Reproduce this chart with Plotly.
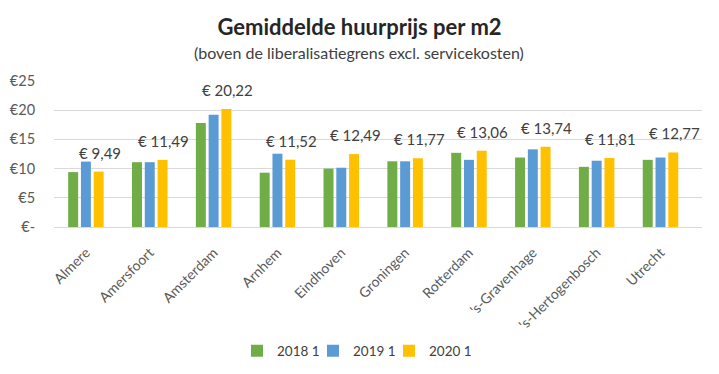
import plotly.graph_objects as go

categories = ["Almere", "Amersfoort", "Amsterdam", "Arnhem", "Eindhoven", "Groningen",
              "Rotterdam", "'s-Gravenhage", "'s-Hertogenbosch", "Utrecht"]
series_names = ["2018 1", "2019 1", "2020 1"]
v2018 = [9.4, 11.1, 17.8, 9.3, 10.0, 11.25, 12.7, 11.9, 10.3, 11.5]
v2019 = [11.2, 11.1, 19.2, 12.55, 10.15, 11.25, 11.5, 13.3, 11.35, 11.9]
v2020 = [9.49, 11.49, 20.22, 11.52, 12.49, 11.77, 13.06, 13.74, 11.81, 12.77]
labels2020 = ["€ 9,49", "€ 11,49", "€ 20,22", "€ 11,52", "€ 12,49", "€ 11,77",
              "€ 13,06", "€ 13,74", "€ 11,81", "€ 12,77"]
y_tickvals = [0, 5, 10, 15, 20, 25]
y_ticktext = ["€-", "€5", "€10", "€15", "€20", "€25"]
colors = ["#70AD47", "#5B9BD5", "#FFC000"]

FONT = "Lato, Open Sans, sans-serif"
W, H = 719, 374
ML, MR, MT, MB = 54, 17, 81, 147
PW, PH = W - ML - MR, H - MT - MB

legend_ids = ["legend", "legend2", "legend3"]
legend_left_px = [237, 313, 389]
legend_center_y_px = 351

fig = go.Figure()
for name, vals, col, lid in zip(series_names, [v2018, v2019, v2020], colors, legend_ids):
    fig.add_trace(go.Bar(x=categories, y=vals, name=name, marker_color=col,
                         marker_line_width=0, legend=lid))

for cat, val, lab in zip(categories, v2020, labels2020):
    fig.add_annotation(x=cat, y=val, text=lab, showarrow=False, xshift=14,
                       yanchor="bottom", yshift=8,
                       font=dict(family=FONT, size=15, color="#404040"))

legend_style = dict(orientation="h", xanchor="left",
                    y=-(legend_center_y_px - (MT + PH)) / PH,
                    yanchor="middle", font=dict(family=FONT, size=13.5, color="#404040"),
                    itemwidth=30, bgcolor="rgba(0,0,0,0)")
legends = {}
for lid, lx in zip(legend_ids, legend_left_px):
    legends[lid] = dict(legend_style, x=(lx - ML) / PW)

fig.update_layout(
    width=W, height=H,
    margin=dict(l=ML, r=MR, t=MT, b=MB, autoexpand=False),
    paper_bgcolor="white", plot_bgcolor="white",
    barmode="group", bargap=0.4, bargroupgap=0.22,
    font=dict(family=FONT, color="#595959"),
    title=dict(text="<b>Gemiddelde huurprijs per m2</b>", x=0.5, xanchor="center",
               y=1 - 27 / H, yref="container", yanchor="middle",
               font=dict(family=FONT, size=22, color="#262626")),
    showlegend=True,
    **legends,
)
fig.add_annotation(text="(boven de liberalisatiegrens excl. servicekosten)",
                   xref="paper", yref="paper", x=0.47, y=1.0, yshift=29,
                   showarrow=False, yanchor="middle",
                   font=dict(family=FONT, size=16, color="#404040"))
fig.update_xaxes(tickangle=-45, tickfont=dict(family=FONT, size=14, color="#595959"),
                 showline=True, linecolor="#D9D9D9", linewidth=1,
                 ticks="outside", ticklen=11, tickcolor="rgba(0,0,0,0)")
fig.update_yaxes(range=[0, 25], tickvals=y_tickvals, ticktext=y_ticktext,
                 showgrid=True, gridcolor="#D9D9D9", gridwidth=1, zeroline=False,
                 tickfont=dict(family=FONT, size=14.5, color="#595959"),
                 ticks="outside", ticklen=15, tickcolor="rgba(0,0,0,0)")
fig.write_html("out.html", config={"displayModeBar": False},
               post_script="document.body.style.margin='0';")
